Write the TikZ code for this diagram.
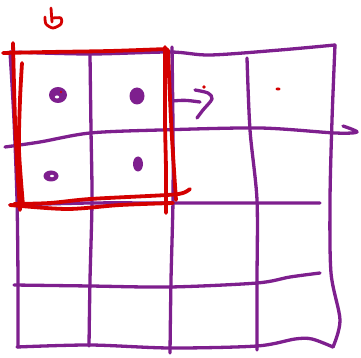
\documentclass[tikz,border=0pt]{standalone}
\definecolor{purp}{HTML}{7E1F8E}
\definecolor{redc}{HTML}{D40000}
\begin{document}
\begin{tikzpicture}[x=1pt,y=-1pt,
  gridline/.style={draw=purp,line width=3.3pt,line cap=round,line join=round},
  redline/.style={draw=redc,line width=3.8pt,line cap=round,line join=round},
  purpdot/.style={fill=purp},
  reddot/.style={fill=redc}]
\useasboundingbox (0,0) rectangle (361,358);
% vertical grid lines
\draw[gridline] plot[smooth] coordinates {(10,52) (14,120) (17,200) (18,280) (18,347)};
\draw[gridline] plot[smooth] coordinates {(90,55) (91,130) (92,200) (90,280) (89,346)};
\draw[gridline] plot[smooth] coordinates {(172,47) (173,130) (173,200) (171,280) (170,353)};
\draw[gridline] plot[smooth] coordinates {(247,58) (250,130) (257,200) (257,280) (257,350)};
\draw[gridline] plot[smooth] coordinates {(335,45) (332,120) (330,200) (331,273) (340,320) (333,347)};
% horizontal grid lines
\draw[gridline] plot[smooth] coordinates {(10,52) (90,54) (170,52) (210,55) (280,50) (335,45)};
\draw[gridline] plot[smooth] coordinates {(5,147) (40,142) (90,133) (160,130) (260,128) (335,133) (357,132) (343,126)};
\draw[gridline] plot[smooth] coordinates {(10,205) (90,203) (172,203) (257,203) (320,203)};
\draw[gridline] plot[smooth] coordinates {(14,285) (90,286) (170,287) (257,283) (290,277) (320,273)};
\draw[gridline] plot[smooth] coordinates {(17,347) (90,345) (170,348) (257,346) (295,339) (312,339) (333,347)};
% arrow-like mark
\draw[gridline] (172,101) .. controls (185,100) .. (200,102);
\draw[gridline] plot[smooth] coordinates {(195,90) (208,93) (212,99) (203,110) (197,118)};
% purple dots
\fill[purpdot] (58,95) ellipse[x radius=9,y radius=8];
\fill[white] (57,97) ellipse[x radius=2.2,y radius=1.5];
\fill[redc] (61,92) circle[radius=1.2];
\fill[purpdot] (137,96) ellipse[x radius=7.5,y radius=8.5];
\fill[purpdot] (51,176) ellipse[x radius=7.5,y radius=5.5];
\fill[white] (52,176) ellipse[x radius=2,y radius=1.2];
\fill[purpdot] (138,164) ellipse[x radius=5,y radius=7.5];
% red dots
\fill[reddot] (204,87) circle[radius=1.8];
\fill[reddot] (278,89) ellipse[x radius=2.5,y radius=1.5];
% red square
\draw[redline] plot[smooth] coordinates {(3,53) (50,52) (110,51) (167,49)};
\draw[redline] plot[smooth] coordinates {(13,43) (15,120) (18,180) (20,210)};
\draw[redline] plot[smooth] coordinates {(22,63) (20,100) (19,150) (23,205)};
\draw[redline] plot[smooth] coordinates {(165,47) (165,120) (166,170) (166,213)};
\draw[redline] plot[smooth] coordinates {(168,50) (171,120) (174,170) (176,200)};
\draw[redline] plot[smooth] coordinates {(10,205) (67,209) (120,205) (173,203)};
\draw[redline] plot[smooth] coordinates {(14,204) (50,203) (90,199) (167,195) (183,193) (190,189)};
% red glyph at top
\draw[redline,line width=2.8pt] (51,8) -- (52,22);
\draw[redline,line width=2.8pt] plot[smooth] coordinates {(45,17) (46,24) (53,28) (61,24) (61,18) (53,18)};
\end{tikzpicture}
\end{document}
